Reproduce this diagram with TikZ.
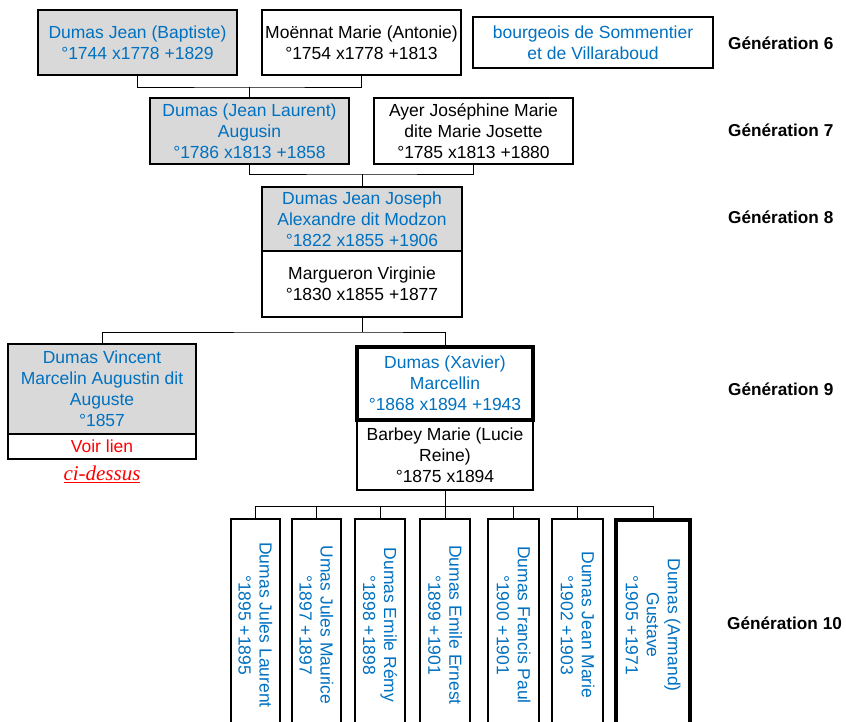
\documentclass[tikz,border=0pt]{standalone}
\usepackage{fontspec}
\setmainfont{Liberation Sans}
\newfontfamily\serifit{Liberation Serif}
\definecolor{tblue}{HTML}{0070C0}
\definecolor{tgray}{HTML}{D9D9D9}
\definecolor{tred}{HTML}{FF0000}
\begin{document}
\begin{tikzpicture}[x=1pt,y=-1pt,
  box/.style={draw=black, line width=1.4pt, inner sep=0pt, align=center,
    font=\fontsize{17.5}{21}\selectfont, text=black},
  gbox/.style={box, fill=tgray, text=tblue},
  bl/.style={text=tblue},
  boldbox/.style={line width=4pt},
  link/.style={draw=black, line width=0.9pt},
  gen/.style={anchor=west, inner sep=0pt, font=\fontsize{17.2}{21}\selectfont\bfseries},
  kid/.style={box, text=tblue, rotate=-90, minimum width=212pt},
]
\useasboundingbox (0,0) rectangle (846,721);
\clip (0,0) rectangle (846,721);

% coordinates of the connector junctions
\coordinate (m6) at (249.5,87);
\coordinate (m7) at (362,174);
\coordinate (m8) at (362,332);
\coordinate (m9) at (445,506);

% Generation 6
\node[gbox, minimum width=199pt, minimum height=65pt] (A) at (137.5,42.5) {Dumas Jean (Baptiste)\\°1744 x1778 +1829};
\node[box, minimum width=199pt, minimum height=65pt] (B) at (361.5,42.5) {Moënnat Marie (Antonie)\\°1754 x1778 +1813};
\node[box, bl, minimum width=240pt, minimum height=51pt] (C) at (593,42.5) {bourgeois de Sommentier\\et de Villaraboud};
\node[gen] (L6) at (728,43) {Génération 6};

% Generation 7
\node[gbox, minimum width=199pt, minimum height=66pt] (D) at (249.5,131) {Dumas (Jean Laurent)\\Augusin\\°1786 x1813 +1858};
\node[box, minimum width=199pt, minimum height=66pt] (E) at (473.5,131) {Ayer Joséphine Marie\\dite Marie Josette\\°1785 x1813 +1880};
\node[gen] (L7) at (728,130) {Génération 7};

% Generation 8
\node[gbox, minimum width=200pt, minimum height=64pt] (F) at (362,219) {Dumas Jean Joseph\\Alexandre dit Modzon\\°1822 x1855 +1906};
\node[box, minimum width=200pt, minimum height=66pt] (G) at (362,284) {Margueron Virginie\\°1830 x1855 +1877};
\node[gen] (L8) at (728,217) {Génération 8};

% Generation 9
\node[gbox, minimum width=188pt, minimum height=90pt] (H) at (102,389) {Dumas Vincent\\Marcelin Augustin dit\\Auguste\\°1857};
\node[box, text=tred, minimum width=188pt, minimum height=25pt] (I) at (102,446.5) {Voir lien};
\node[text=tred, inner sep=0pt, font=\fontsize{21}{24}\selectfont\serifit\itshape] (ci) at (102,474) {\underline{ci-dessus}};
\node[box, minimum width=176pt, minimum height=70pt] (K) at (445,455) {Barbey Marie (Lucie\\Reine)\\°1875 x1894};
\node[box, bl, boldbox, minimum width=176pt, minimum height=73pt] (J) at (445,383.5) {Dumas (Xavier)\\Marcellin\\°1868 x1894 +1943};
\node[gen] (L9) at (728,389) {Génération 9};

% Generation 10
\node[kid, minimum height=49pt] (c1) at (255.5,625) {Dumas Jules Laurent\\°1895 +1895};
\node[kid, minimum height=49pt] (c2) at (316.5,625) {Umas Jules Maurice\\°1897 +1897};
\node[kid, minimum height=50pt] (c3) at (380,625) {Dumas Emile Rémy\\°1898 +1898};
\node[kid, minimum height=50pt] (c4) at (445,625) {Dumas Emile Ernest\\°1899 +1901};
\node[kid, minimum height=51pt] (c5) at (513.5,625) {Dumas Francis Paul\\°1900 +1901};
\node[kid, minimum height=51pt] (c6) at (577.5,625) {Dumas Jean Marie\\°1902 +1903};
\node[kid, boldbox, minimum height=74pt, minimum width=210pt] (c7) at (653,625) {Dumas (Armand)\\Gustave\\°1905 +1971};
\node[gen] (L10) at (727,623) {Génération 10};

% connectors
\draw[link] (A.south) |- (m6) -| (B.south);
\draw[link] (m6) -- (D.north);
\draw[link] (D.south) |- (m7) -| (E.south);
\draw[link] (m7) -- (F.north);
\draw[link] (G.south) -- (m8);
\draw[link] (H.north) |- (m8) -| (J.north);
\draw[link] (K.south) -- (m9);
\draw[link] (c1.west) |- (m9) -| (c7.west);
\foreach \k in {c2,c3,c4,c5,c6} {
  \draw[link] (\k.west) -- (\k.west |- m9);
}
\end{tikzpicture}
\end{document}
